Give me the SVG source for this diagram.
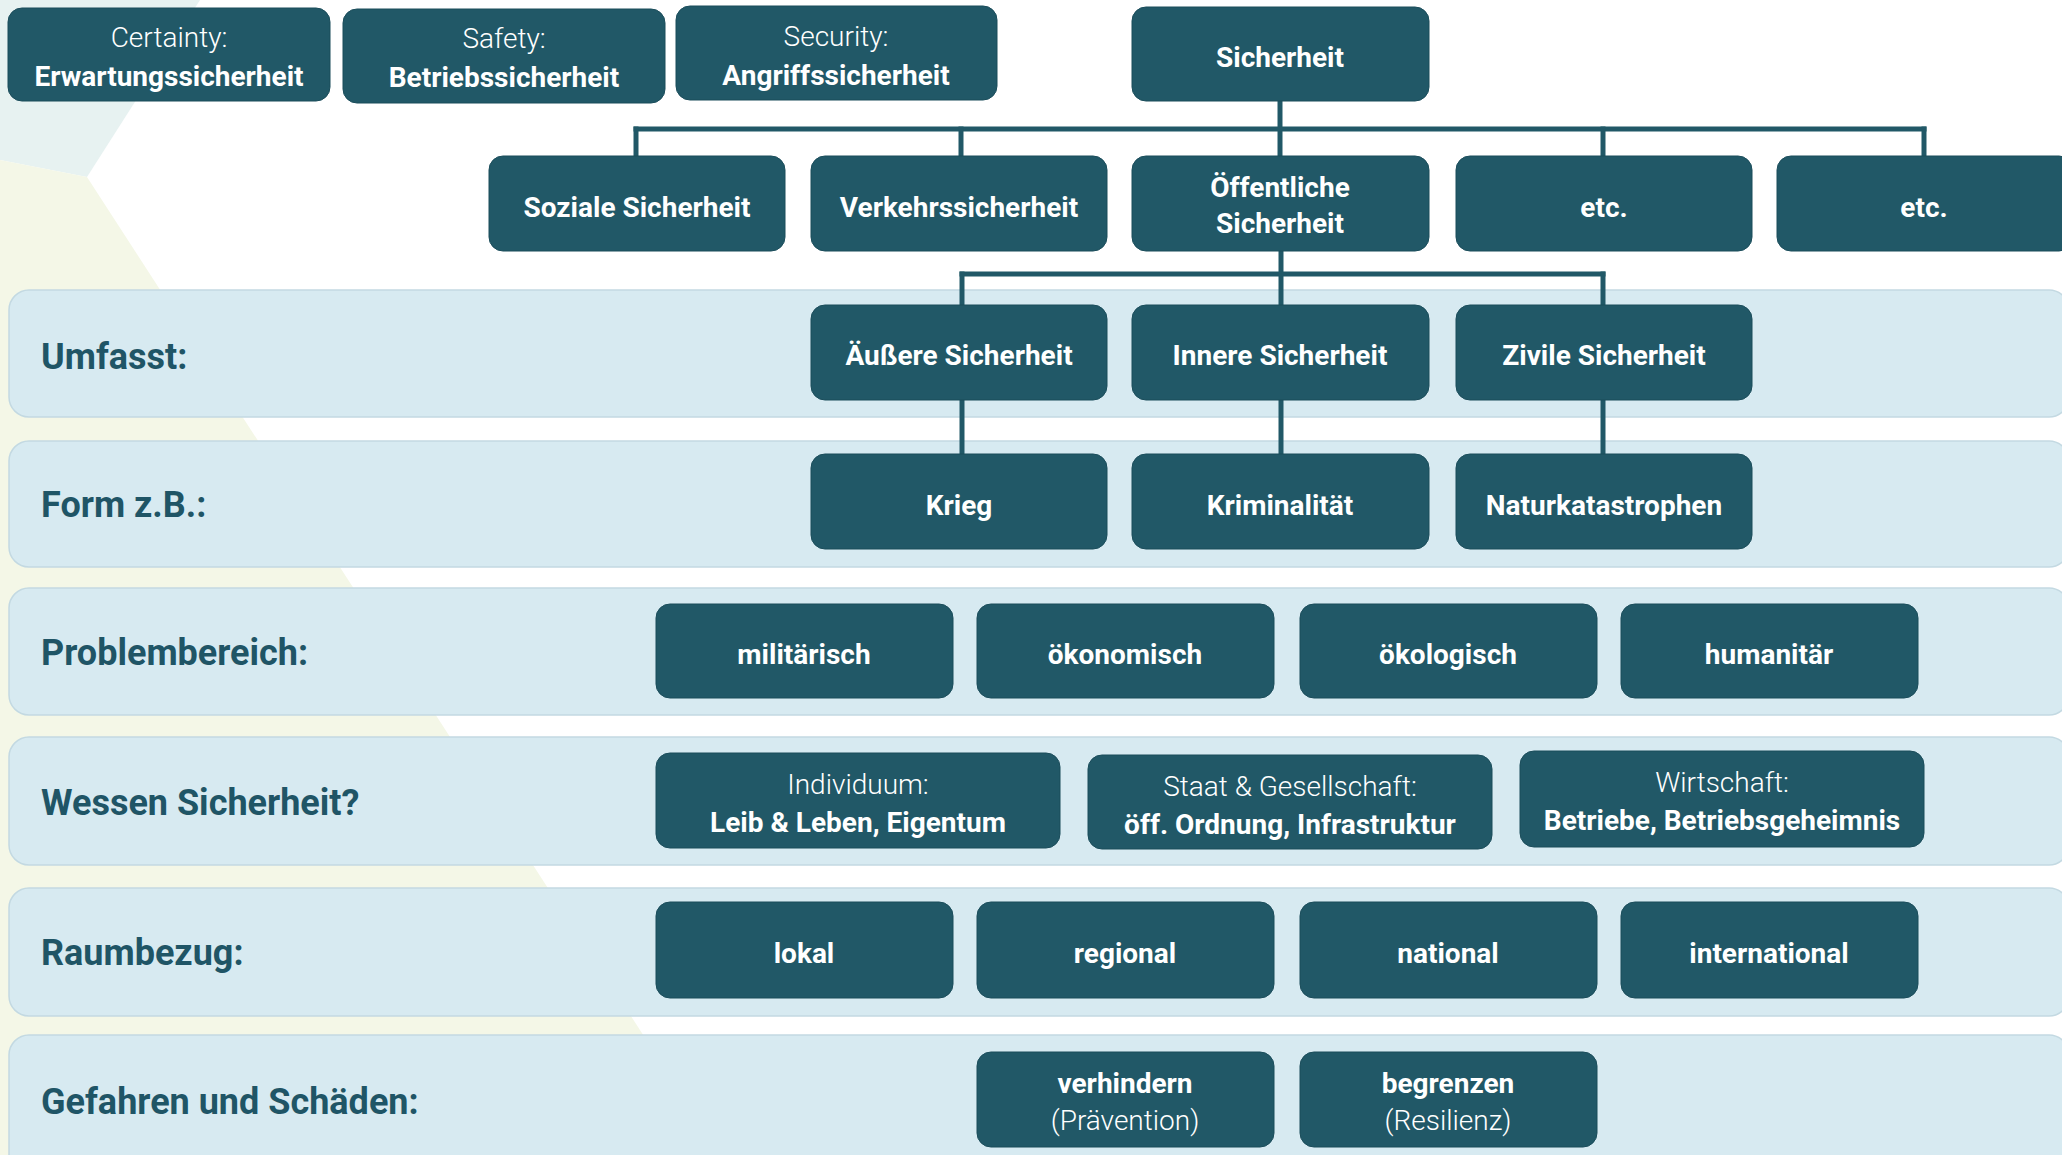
<svg xmlns="http://www.w3.org/2000/svg" width="2062" height="1155" viewBox="0 0 2062 1155">
<style>
.bg{fill:#ffffff}
.band{fill:#d7eaf1;stroke:#c3d9e2;stroke-width:1.5}
.box{fill:#215867;stroke:#1b4d5b;stroke-width:1}
.bt{font-family:Roboto,"Liberation Sans",sans-serif;font-weight:700;font-size:28px;fill:#ffffff;text-anchor:middle}
.lt{font-family:Roboto,"Liberation Sans",sans-serif;font-weight:300;font-size:28px;fill:#ffffff;text-anchor:middle}
.lbl{font-family:Roboto,"Liberation Sans",sans-serif;font-weight:700;font-size:36px;fill:#1f5566}
.con{stroke:#215867;stroke-width:5;fill:none;stroke-linecap:square}
</style>
<rect class="bg" x="0" y="0" width="2062" height="1155"/>
<g id="background">
<polygon points="0,0 200,0 87,177 0,160" fill="#e7f2f1"/>
<polygon points="0,160 87,177 721,1155 0,1155" fill="#f4f7e7"/>
</g>
<g id="bands">
<rect id="band-umfasst" class="band" x="9" y="290" width="2060" height="127" rx="20"/>
<rect id="band-form" class="band" x="9" y="441" width="2060" height="126" rx="20"/>
<rect id="band-problem" class="band" x="9" y="588" width="2060" height="127" rx="20"/>
<rect id="band-wessen" class="band" x="9" y="737" width="2060" height="128" rx="20"/>
<rect id="band-raum" class="band" x="9" y="888" width="2060" height="128" rx="20"/>
<rect id="band-gefahren" class="band" x="9" y="1035" width="2060" height="140" rx="20"/>
</g>
<g id="labels">
<text class="lbl" x="41" y="369">Umfasst:</text>
<text class="lbl" x="41" y="517">Form z.B.:</text>
<text class="lbl" x="41" y="665">Problembereich:</text>
<text class="lbl" x="41" y="815">Wessen Sicherheit?</text>
<text class="lbl" x="41" y="965">Raumbezug:</text>
<text class="lbl" x="41" y="1114">Gefahren und Schäden:</text>
</g>
<g id="connectors">
<line class="con" x1="1280" y1="101" x2="1280" y2="156"/>
<line class="con" x1="636" y1="129" x2="1924" y2="129"/>
<line class="con" x1="636" y1="129" x2="636" y2="156"/>
<line class="con" x1="961" y1="129" x2="961" y2="156"/>
<line class="con" x1="1603" y1="129" x2="1603" y2="156"/>
<line class="con" x1="1924" y1="129" x2="1924" y2="156"/>
<line class="con" x1="1281" y1="251" x2="1281" y2="305"/>
<line class="con" x1="962" y1="274" x2="1603" y2="274"/>
<line class="con" x1="962" y1="274" x2="962" y2="305"/>
<line class="con" x1="1603" y1="274" x2="1603" y2="305"/>
<line class="con" x1="962" y1="400" x2="962" y2="454"/>
<line class="con" x1="1281" y1="400" x2="1281" y2="454"/>
<line class="con" x1="1603" y1="400" x2="1603" y2="454"/>
</g>
<g id="n-certainty"><rect class="box" x="8" y="8" width="322" height="93" rx="14"/><text class="lt" x="169" y="47">Certainty:</text><text class="bt" x="169" y="86">Erwartungssicherheit</text></g>
<g id="n-safety"><rect class="box" x="343" y="9" width="322" height="94" rx="14"/><text class="lt" x="504" y="48">Safety:</text><text class="bt" x="504" y="87">Betriebssicherheit</text></g>
<g id="n-security"><rect class="box" x="676" y="6" width="321" height="94" rx="14"/><text class="lt" x="836" y="46">Security:</text><text class="bt" x="836" y="85">Angriffssicherheit</text></g>
<g id="n-sicherheit"><rect class="box" x="1132" y="7" width="297" height="94" rx="14"/><text class="bt" x="1280" y="67">Sicherheit</text></g>
<g id="n-soziale"><rect class="box" x="489" y="156" width="296" height="95" rx="14"/><text class="bt" x="637" y="217">Soziale Sicherheit</text></g>
<g id="n-verkehr"><rect class="box" x="811" y="156" width="296" height="95" rx="14"/><text class="bt" x="959" y="217">Verkehrssicherheit</text></g>
<g id="n-oeffentliche"><rect class="box" x="1132" y="156" width="297" height="95" rx="14"/><text class="bt" x="1280" y="197">Öffentliche</text><text class="bt" x="1280" y="233">Sicherheit</text></g>
<g id="n-etc1"><rect class="box" x="1456" y="156" width="296" height="95" rx="14"/><text class="bt" x="1604" y="217">etc.</text></g>
<g id="n-etc2"><rect class="box" x="1777" y="156" width="296" height="95" rx="14"/><text class="bt" x="1924" y="217">etc.</text></g>
<g id="n-aeussere"><rect class="box" x="811" y="305" width="296" height="95" rx="14"/><text class="bt" x="959" y="365">Äußere Sicherheit</text></g>
<g id="n-innere"><rect class="box" x="1132" y="305" width="297" height="95" rx="14"/><text class="bt" x="1280" y="365">Innere Sicherheit</text></g>
<g id="n-zivile"><rect class="box" x="1456" y="305" width="296" height="95" rx="14"/><text class="bt" x="1604" y="365">Zivile Sicherheit</text></g>
<g id="n-krieg"><rect class="box" x="811" y="454" width="296" height="95" rx="14"/><text class="bt" x="959" y="515">Krieg</text></g>
<g id="n-kriminalitaet"><rect class="box" x="1132" y="454" width="297" height="95" rx="14"/><text class="bt" x="1280" y="515">Kriminalität</text></g>
<g id="n-natur"><rect class="box" x="1456" y="454" width="296" height="95" rx="14"/><text class="bt" x="1604" y="515">Naturkatastrophen</text></g>
<g id="n-militaerisch"><rect class="box" x="656" y="604" width="297" height="94" rx="14"/><text class="bt" x="804" y="664">militärisch</text></g>
<g id="n-oekonomisch"><rect class="box" x="977" y="604" width="297" height="94" rx="14"/><text class="bt" x="1125" y="664">ökonomisch</text></g>
<g id="n-oekologisch"><rect class="box" x="1300" y="604" width="297" height="94" rx="14"/><text class="bt" x="1448" y="664">ökologisch</text></g>
<g id="n-humanitaer"><rect class="box" x="1621" y="604" width="297" height="94" rx="14"/><text class="bt" x="1769" y="664">humanitär</text></g>
<g id="n-individuum"><rect class="box" x="656" y="753" width="404" height="95" rx="14"/><text class="lt" x="858" y="794">Individuum:</text><text class="bt" x="858" y="832">Leib &amp; Leben, Eigentum</text></g>
<g id="n-staat"><rect class="box" x="1088" y="755" width="404" height="94" rx="14"/><text class="lt" x="1290" y="796">Staat &amp; Gesellschaft:</text><text class="bt" x="1290" y="834">öff. Ordnung, Infrastruktur</text></g>
<g id="n-wirtschaft"><rect class="box" x="1520" y="751" width="404" height="96" rx="14"/><text class="lt" x="1722" y="792">Wirtschaft:</text><text class="bt" x="1722" y="830">Betriebe, Betriebsgeheimnis</text></g>
<g id="n-lokal"><rect class="box" x="656" y="902" width="297" height="96" rx="14"/><text class="bt" x="804" y="963">lokal</text></g>
<g id="n-regional"><rect class="box" x="977" y="902" width="297" height="96" rx="14"/><text class="bt" x="1125" y="963">regional</text></g>
<g id="n-national"><rect class="box" x="1300" y="902" width="297" height="96" rx="14"/><text class="bt" x="1448" y="963">national</text></g>
<g id="n-international"><rect class="box" x="1621" y="902" width="297" height="96" rx="14"/><text class="bt" x="1769" y="963">international</text></g>
<g id="n-verhindern"><rect class="box" x="977" y="1052" width="297" height="95" rx="14"/><text class="bt" x="1125" y="1093">verhindern</text><text class="lt" x="1125" y="1130">(Prävention)</text></g>
<g id="n-begrenzen"><rect class="box" x="1300" y="1052" width="297" height="95" rx="14"/><text class="bt" x="1448" y="1093">begrenzen</text><text class="lt" x="1448" y="1130">(Resilienz)</text></g>
</svg>
